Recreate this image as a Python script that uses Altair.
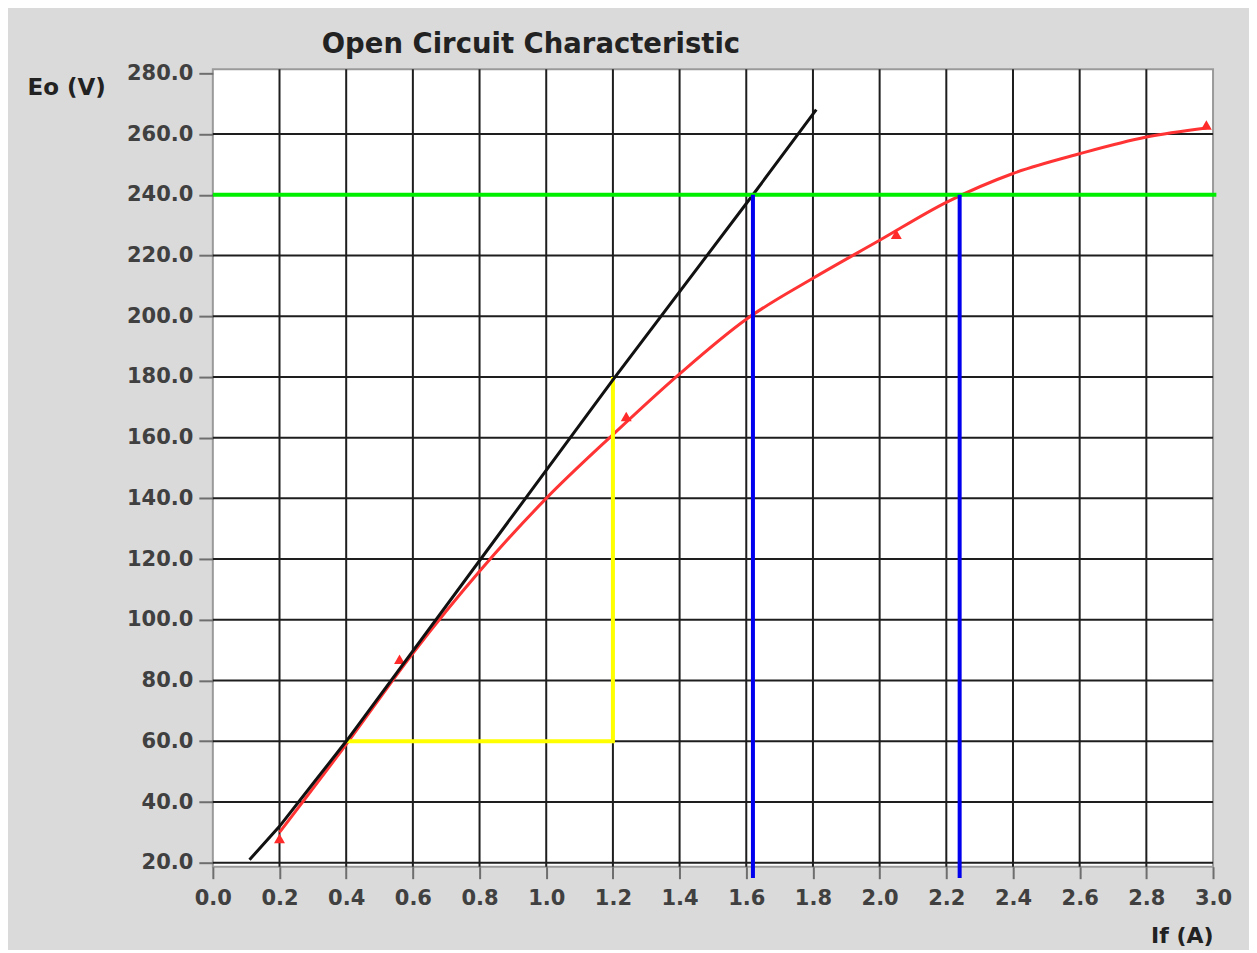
import altair as alt
import pandas as pd

# ---- data ----
x_ticks = [0.0, 0.2, 0.4, 0.6, 0.8, 1.0, 1.2, 1.4, 1.6, 1.8, 2.0, 2.2, 2.4, 2.6, 2.8, 3.0]
y_ticks = [20, 40, 60, 80, 100, 120, 140, 160, 180, 200, 220, 240, 260, 280]
grid_x = [0.2, 0.4, 0.6, 0.8, 1.0, 1.2, 1.4, 1.6, 1.8, 2.0, 2.2, 2.4, 2.6, 2.8]
grid_y = [20, 40, 60, 80, 100, 120, 140, 160, 180, 200, 220, 240, 260]

black_x = [0.11, 0.2, 0.3, 0.4, 1.2, 1.62, 1.81]
black_y = [21, 32, 46, 60, 179, 240, 268]

red_x = [0.2, 0.4, 0.6, 0.8, 1.0, 1.2, 1.4, 1.6, 1.8, 2.0, 2.2, 2.4, 2.6, 2.8, 2.98]
red_y = [30, 59, 89, 116, 140, 161, 181, 199, 212.5, 225, 237.5, 247, 253.5, 259, 262]

meas_x = [0.2, 0.56, 1.24, 2.05, 2.98]
meas_y = [28, 87, 167, 227, 263]

yellow_x = [0.4, 1.2, 1.2]
yellow_y = [60, 60, 180]

green_level = [240]
green_from = [0.0]
green_to = [3.01]

blue_x = [1.62, 2.24]
blue_top = [240, 240]
blue_bottom = [15, 15]

# ---- tables ----
df_black = pd.DataFrame({"x": black_x, "y": black_y})
df_red = pd.DataFrame({"x": red_x, "y": red_y})
df_meas = pd.DataFrame({"x": meas_x, "y": meas_y})
df_yellow = pd.DataFrame({"x": yellow_x, "y": yellow_y, "o": list(range(len(yellow_x)))})
df_green = pd.DataFrame({"y": green_level, "x": green_from, "x2": green_to})
df_blue = pd.DataFrame({"x": blue_x, "y": blue_top, "y2": blue_bottom})
df_gx = pd.DataFrame({"x": grid_x})
df_gy = pd.DataFrame({"y": grid_y})

FONT = "DejaVu Sans"

xscale = alt.Scale(domain=[0, 3], nice=False, zero=False)
yscale = alt.Scale(domain=[18.7, 281.3], nice=False, zero=False)

x_bottom = alt.Axis(
    values=x_ticks, format=".1f", grid=False, domain=False,
    tickColor="#6e6e6e", tickSize=12, tickWidth=2,
    labelFont=FONT, labelFontSize=21, labelFontWeight="bold", labelColor="#404040",
    labelPadding=9, labelFlush=False, labelOverlap=False,
    title="If (A)", titleFont=FONT, titleFontSize=22, titleFontWeight="bold",
    titleColor="#222222", titleX=1001, titleY=76, titleAlign="right",
    titleBaseline="alphabetic", titleAnchor="end",
)
y_left = alt.Axis(
    values=y_ticks, format=".1f", grid=False, domain=False,
    tickColor="#6e6e6e", tickSize=14, tickWidth=2,
    labelFont=FONT, labelFontSize=21, labelFontWeight="bold", labelColor="#404040",
    labelPadding=6, labelFlush=False, labelOverlap=False,
    title="Eo (V)", titleFont=FONT, titleFontSize=23, titleFontWeight="bold",
    titleColor="#222222", titleAngle=0, titleX=-186, titleY=25,
    titleAlign="left", titleBaseline="alphabetic",
)


def X(field="x"):
    return alt.X(f"{field}:Q", scale=xscale, axis=x_bottom)


def Y(field="y"):
    return alt.Y(f"{field}:Q", scale=yscale, axis=y_left)


grid_v = alt.Chart(df_gx).mark_rule(color="#1e1e1e", strokeWidth=2).encode(x=X())
grid_h = alt.Chart(df_gy).mark_rule(color="#1e1e1e", strokeWidth=2).encode(y=Y())

red_line = alt.Chart(df_red).mark_line(color="#ff3333", strokeWidth=3, interpolate="monotone").encode(
    x=X(), y=Y()
)
red_pts = alt.Chart(df_meas).mark_point(shape="triangle-up", filled=True, size=120, color="#ff2a2a", opacity=1).encode(
    x=X(), y=Y()
)
yellow = alt.Chart(df_yellow).mark_line(color="#ffff00", strokeWidth=4).encode(
    x=X(), y=Y(), order="o:Q"
)
black_line = alt.Chart(df_black).mark_line(color="#111111", strokeWidth=3).encode(
    x=X(), y=Y()
)
green = alt.Chart(df_green).mark_rule(color="#00ee00", strokeWidth=4).encode(
    x=X(), x2="x2:Q", y=Y()
)
blue = alt.Chart(df_blue).mark_rule(color="#0000ee", strokeWidth=4).encode(
    x=X(), y=Y(), y2="y2:Q"
)

chart = alt.layer(
    grid_v, grid_h, red_line, red_pts, yellow, black_line, green, blue
).properties(
    width=1001,
    height=798,
    autosize=alt.AutoSizeParams(type="none"),
    padding={"left": 205, "top": 61, "right": 36, "bottom": 83},
    background="#dadada",
    title=alt.TitleParams(
        "Open Circuit Characteristic", anchor="start", dx=295, offset=-18,
        font=FONT, fontSize=27.5, fontWeight="bold", color="#222222",
        baseline="alphabetic",
    ),
).configure_view(
    fill="white", stroke="#9a9a9a", strokeWidth=2
)

chart.save("out.html", embed_options={"renderer": "svg", "actions": False})
